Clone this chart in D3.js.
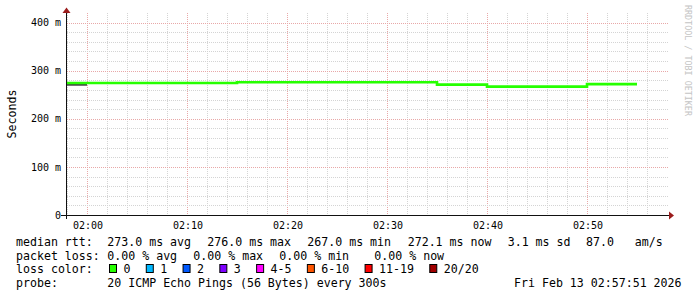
<!DOCTYPE html>
<html><head><meta charset="utf-8">
<script src="https://cdn.jsdelivr.net/npm/d3@7"></script>
<style>
html,body{margin:0;padding:0;background:#fff;}
svg text{white-space:pre;font-family:"DejaVu Sans Mono",monospace;}
</style></head>
<body><svg id="c" width="697" height="297"></svg>
<script>
// ---- data ----
const stepStarts = ["01:55","02:00","02:05","02:10","02:15","02:20","02:25","02:30","02:35","02:40","02:45","02:50"];
const stepEnd = "02:55";
const medianRtt = [274.5,274.5,274.5,274.5,276,276,276,276,271,267,267,272.1];
const smokeStarts = ["01:55"];
const smokeEnd = "02:00";
const smokeVals = [270.9];
const yTicks = [0,100,200,300,400];
const yTickLabels = ["0","100 m","200 m","300 m","400 m"];
const xTicks = ["02:00","02:10","02:20","02:30","02:40","02:50"];
const rttStats = ["273.0 ms avg","276.0 ms max","267.0 ms min","272.1 ms now","3.1 ms sd","87.0   am/s"];
const lossStats = ["0.00 % avg","0.00 % max","0.00 % min","0.00 % now"];
const lossLabels = ["0","1","2","3","4-5","6-10","11-19","20/20"];
const lossColors = ["#26ff00","#00b8ff","#0059ff","#7e00ff","#ff00ff","#ff5500","#ff0000","#a10000"];
const probeText = "20 ICMP Echo Pings (56 Bytes) every 300s";
const dateText = "Fri Feb 13 02:57:51 2026";

// ---- setup ----
const svg = d3.select("#c");
const pt = s => d3.timeParse("%Y-%m-%d %H:%M")("2026-02-13 " + s);
const L = 67, R = 667, T = 13, B = 215;
const x = d3.scaleTime().domain([pt("01:58"), pt("02:58")]).range([L, R]);
const y = d3.scaleLinear().domain([0, 420]).range([B, T]);

// grid
const g = svg.append("g");
const minorX = d3.timeMinute.every(2).range(pt("01:58"), pt("02:58"));
minorX.forEach(t => {
  const isMajor = t.getMinutes() % 10 === 0;
  g.append("line").attr("x1", Math.round(x(t))+0.5).attr("x2", Math.round(x(t))+0.5)
    .attr("y1", T).attr("y2", B)
    .attr("stroke", isMajor ? "#e8a8a8" : "#d4d4d4").attr("stroke-dasharray","1,1");
});
d3.range(20, 420, 20).forEach(v => {
  const isMajor = v % 100 === 0;
  g.append("line").attr("x1", L).attr("x2", R+1)
    .attr("y1", Math.round(y(v))+0.5).attr("y2", Math.round(y(v))+0.5)
    .attr("stroke", isMajor ? "#e8a8a8" : "#d4d4d4").attr("stroke-dasharray","1,1");
});

// clip
svg.append("clipPath").attr("id","clip").append("rect")
  .attr("x", L).attr("y", T).attr("width", R-L).attr("height", B-T);

// smoke segment
const smokePts = smokeStarts.map((s,i)=>[pt(s), smokeVals[i]]).concat([[pt(smokeEnd), smokeVals[smokeVals.length-1]]]);
const line = d3.line().x(d=>x(d[0])).y(d=>y(d[1])).curve(d3.curveStepAfter);
svg.append("path").attr("clip-path","url(#clip)").attr("d", line(smokePts))
  .attr("fill","none").attr("stroke","#444").attr("stroke-width",2);

// median line
const medPts = stepStarts.map((s,i)=>[pt(s), medianRtt[i]]).concat([[pt(stepEnd), medianRtt[medianRtt.length-1]]]);
svg.append("path").attr("clip-path","url(#clip)").attr("d", line(medPts))
  .attr("fill","none").attr("stroke", lossColors[0]).attr("stroke-width",2.6);

// axes
svg.append("line").attr("x1", 61).attr("x2", 669).attr("y1", B+0.5).attr("y2", B+0.5).attr("stroke","#111");
svg.append("line").attr("x1", L-0.5).attr("x2", L-0.5).attr("y1", 219).attr("y2", 10).attr("stroke","#111");
svg.append("path").attr("d", `M669,211.5 L674,215.5 L669,219.5 Z`).attr("fill","#9b1c1c");
svg.append("path").attr("d", `M62.5,13 L66.5,7.5 L70.5,13 Z`).attr("fill","#9b1c1c");

// y labels
yTicks.forEach((v,i)=>{
  svg.append("text").attr("x", 61).attr("y", y(v)+3.6).attr("text-anchor","end")
    .attr("font-size","10px").attr("fill","#000").text(yTickLabels[i]);
});
// x labels
xTicks.forEach(s=>{
  svg.append("text").attr("x", x(pt(s))+1).attr("y", 229).attr("text-anchor","middle")
    .attr("font-size","10px").attr("fill","#000").text(s);
});

// y title
svg.append("text").attr("transform","translate(15.5,114) rotate(-90)").attr("text-anchor","middle")
  .attr("font-size","11.6px").attr("fill","#000").text("Seconds");

// watermark
svg.append("text").attr("transform","translate(685,5) rotate(90)")
  .attr("font-size","8.4px").attr("fill","#c4c4c4").text("RRDTOOL / TOBI OETIKER");

// legend
const fs = "11.6px", cw = 6.98;
const row = [246, 259.5, 273, 287];
const txt = (xx, yy, s) => svg.append("text").attr("x", xx).attr("y", yy).attr("font-size", fs).attr("fill","#000").text(s);
txt(16, row[0], "median rtt:");
[107.3, 207.3, 307.3, 407.7, 507.7, 586].forEach((xx,i)=>txt(xx, row[0], rttStats[i]));
txt(16, row[1], "packet loss:");
[107.3, 193.3, 279.3, 374.3].forEach((xx,i)=>txt(xx, row[1], lossStats[i]));
txt(16, row[2], "loss color:");
let bx = 109;
lossLabels.forEach((lab,i)=>{
  svg.append("rect").attr("x", bx+0.5).attr("y", 264.5).attr("width", 7).attr("height", 8)
    .attr("fill", lossColors[i]).attr("stroke","#000");
  txt(bx+14.5, row[2], lab);
  bx = bx + 14.5 + lab.length*cw + 15.3;
});
txt(16, row[3], "probe:");
txt(107.3, row[3], probeText);
txt(514, row[3], dateText);
</script></body></html>
